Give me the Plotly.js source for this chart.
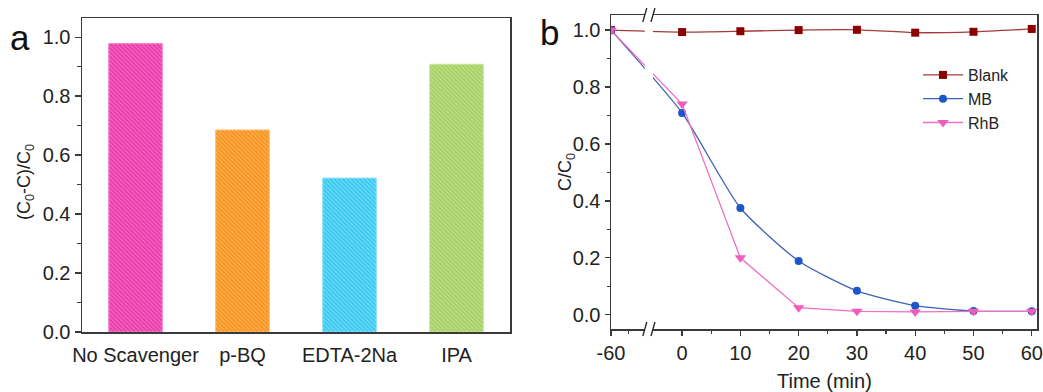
<!DOCTYPE html>
<html>
<head>
<meta charset="utf-8">
<script src="https://cdn.plot.ly/plotly-3.0.1.min.js"></script>
<style>html,body{margin:0;padding:0;background:#fff;}#chart{width:1043px;height:392px;}</style>
</head>
<body>
<div id="chart"></div>
<script>
// ---- Panel a data ----
const scavengers = ["No Scavenger", "p-BQ", "EDTA-2Na", "IPA"];
const removal = [0.978, 0.685, 0.522, 0.908];
const barColors = ["#ea3aa9", "#f7941f", "#36c9f0", "#a6d063"];
const stripeColors = ["#f57ccb", "#fcb865", "#8adff8", "#c6e49a"];

// ---- Panel b data ----
const times = [-60, 0, 10, 20, 30, 40, 50, 60];
const blank = [1.0, 0.993, 0.996, 1.0, 1.001, 0.991, 0.994, 1.004];
const mb = [1.0, 0.709, 0.375, 0.189, 0.084, 0.032, 0.013, 0.012];
const rhb = [1.0, 0.740, 0.200, 0.025, 0.012, 0.010, 0.012, 0.012];
const timeTicks = [-60, 0, 10, 20, 30, 40, 50, 60];
const timeMinor = [-45, 5, 15, 25, 35, 45, 55];

// broken axis: compress the -60..0 interval
const BREAK_SCALE = 12.2 / 60;
function tx(t) { return t < 0 ? t * BREAK_SCALE : t; }

const W = 1043, H = 392;
const px = x => x / W;
const py = y => 1 - y / H;

const FONT = "Liberation Sans, Arial, sans-serif";
const axisColor = "#3a3a3a";

const xbRange = [-12.2, 60.9];
const xbDomain = [px(611), px(1037)];

const traces = [
  {
    type: "bar", x: scavengers, y: removal, xaxis: "x", yaxis: "y",
    width: 0.5, showlegend: false,
    marker: {color: barColors, line: {color: stripeColors, width: 1}},
    hoverinfo: "x+y"
  },
  {
    type: "bar", x: scavengers, y: removal, xaxis: "x", yaxis: "y",
    width: 0.5, showlegend: false,
    marker: {
      color: stripeColors,
      line: {width: 0},
      pattern: {shape: "\\", fgcolor: stripeColors, size: 3, solidity: 0.3, fillmode: "replace"}
    },
    hoverinfo: "skip"
  },
  {
    type: "scatter", mode: "lines+markers", name: "Blank",
    x: times.map(tx), y: blank, xaxis: "x2", yaxis: "y2",
    line: {color: "#a23b3b", width: 1.3, shape: "spline", smoothing: 0.5},
    marker: {symbol: "square", size: 8, color: "#8b0000"}
  },
  {
    type: "scatter", mode: "lines+markers", name: "MB",
    x: times.map(tx), y: mb, xaxis: "x2", yaxis: "y2",
    line: {color: "#3c62b4", width: 1.3, shape: "spline", smoothing: 0.6},
    marker: {symbol: "circle", size: 8, color: "#1d56c9"}
  },
  {
    type: "scatter", mode: "lines+markers", name: "RhB",
    x: times.map(tx), y: rhb, xaxis: "x2", yaxis: "y2",
    line: {color: "#ef6fc2", width: 1.3},
    marker: {symbol: "triangle-down", size: 10, color: "#f25dbb"}
  }
];

// break location (display coords) -> paper coords
const brk0 = -6.4, brk1 = -5.0;
const toPaperX = v => xbDomain[0] + (v - xbRange[0]) / (xbRange[1] - xbRange[0]) * (xbDomain[1] - xbDomain[0]);
const bx0 = toPaperX(brk0), bx1 = toPaperX(brk1);
const topB = py(15), botB = py(329);
const dx = px(4), dy = 7 / H;

const shapes = [
  {type: "rect", xref: "paper", yref: "paper", x0: bx0, x1: bx1, y0: botB - 3 / H, y1: topB + 3 / H,
   fillcolor: "#ffffff", line: {width: 0}, layer: "above"},
  {type: "line", xref: "paper", yref: "paper", x0: bx0 - dx / 2, y0: topB - dy, x1: bx0 + dx / 2, y1: topB + dy, line: {color: "#222", width: 1.3}, layer: "above"},
  {type: "line", xref: "paper", yref: "paper", x0: bx1 - dx / 2, y0: topB - dy, x1: bx1 + dx / 2, y1: topB + dy, line: {color: "#222", width: 1.3}, layer: "above"},
  {type: "line", xref: "paper", yref: "paper", x0: bx0 - dx / 2, y0: botB - dy, x1: bx0 + dx / 2, y1: botB + dy, line: {color: "#222", width: 1.3}, layer: "above"},
  {type: "line", xref: "paper", yref: "paper", x0: bx1 - dx / 2, y0: botB - dy, x1: bx1 + dx / 2, y1: botB + dy, line: {color: "#222", width: 1.3}, layer: "above"}
];

const annotations = [
  {text: "a", x: px(8), y: py(38), xref: "paper", yref: "paper", xanchor: "left", yanchor: "middle", showarrow: false, font: {family: FONT, size: 35, color: "#111"}},
  {text: "b", x: px(538), y: py(33), xref: "paper", yref: "paper", xanchor: "left", yanchor: "middle", showarrow: false, font: {family: FONT, size: 35, color: "#111"}},
  {text: "(C<sub>0</sub>-C)/C<sub>0</sub>", x: px(25), y: py(182), xref: "paper", yref: "paper", textangle: -90, showarrow: false, xanchor: "center", yanchor: "middle", font: {family: FONT, size: 18, color: "#222"}},
  {text: "C/C<sub>0</sub>", x: px(567), y: py(172), xref: "paper", yref: "paper", textangle: -90, showarrow: false, xanchor: "center", yanchor: "middle", font: {family: FONT, size: 18, color: "#222"}},
  {text: "Time (min)", x: px(824), y: py(381), xref: "paper", yref: "paper", showarrow: false, xanchor: "center", yanchor: "middle", font: {family: FONT, size: 20, color: "#222"}}
];

const tickFont = {family: FONT, size: 20, color: "#222"};

const layout = {
  width: W, height: H,
  margin: {l: 0, r: 0, t: 0, b: 0},
  paper_bgcolor: "#fff", plot_bgcolor: "#fff",
  font: {family: FONT},
  barmode: "overlay",
  showlegend: true,
  legend: {x: px(918), y: py(58), xanchor: "left", yanchor: "top", bgcolor: "rgba(0,0,0,0)",
           font: {family: FONT, size: 16, color: "#222"}, tracegroupgap: 0, itemwidth: 40},
  xaxis: {
    domain: [px(82), px(510)], anchor: "y", range: [-0.5, 3.5], type: "category",
    showline: true, mirror: true, linecolor: axisColor, linewidth: 1.5,
    ticks: "", showgrid: false, zeroline: false, tickfont: tickFont, ticklabelstandoff: 4
  },
  yaxis: {
    domain: [py(332), py(18)], anchor: "x", range: [0, 1.065],
    tickvals: [0, 0.2, 0.4, 0.6, 0.8, 1.0], tickformat: ".1f",
    showline: true, mirror: true, linecolor: axisColor, linewidth: 1.5,
    ticks: "outside", ticklen: 6, tickwidth: 1.3, tickcolor: axisColor,
    minor: {tickvals: [0.1, 0.3, 0.5, 0.7, 0.9], ticks: "outside", ticklen: 3.5, tickwidth: 1.2, tickcolor: axisColor},
    showgrid: false, zeroline: false, tickfont: tickFont
  },
  xaxis2: {
    domain: xbDomain, anchor: "y2", range: xbRange,
    tickvals: timeTicks.map(tx), ticktext: timeTicks.map(String),
    showline: true, mirror: true, linecolor: axisColor, linewidth: 1.5,
    ticks: "outside", ticklen: 5, tickwidth: 1.3, tickcolor: axisColor,
    minor: {tickvals: timeMinor.map(tx), ticks: "outside", ticklen: 3, tickwidth: 1.2, tickcolor: axisColor},
    showgrid: false, zeroline: false, tickfont: tickFont
  },
  yaxis2: {
    domain: [py(329), py(15)], anchor: "x2", range: [-0.05, 1.053],
    tickvals: [0, 0.2, 0.4, 0.6, 0.8, 1.0], tickformat: ".1f",
    showline: true, mirror: true, linecolor: axisColor, linewidth: 1.5,
    ticks: "outside", ticklen: 5, tickwidth: 1.3, tickcolor: axisColor,
    minor: {tickvals: [0.1, 0.3, 0.5, 0.7, 0.9], ticks: "outside", ticklen: 3, tickwidth: 1.2, tickcolor: axisColor},
    showgrid: false, zeroline: false, tickfont: tickFont
  },
  shapes: shapes,
  annotations: annotations
};

Plotly.newPlot("chart", traces, layout, {staticPlot: true, displayModeBar: false});
</script>
</body>
</html>
